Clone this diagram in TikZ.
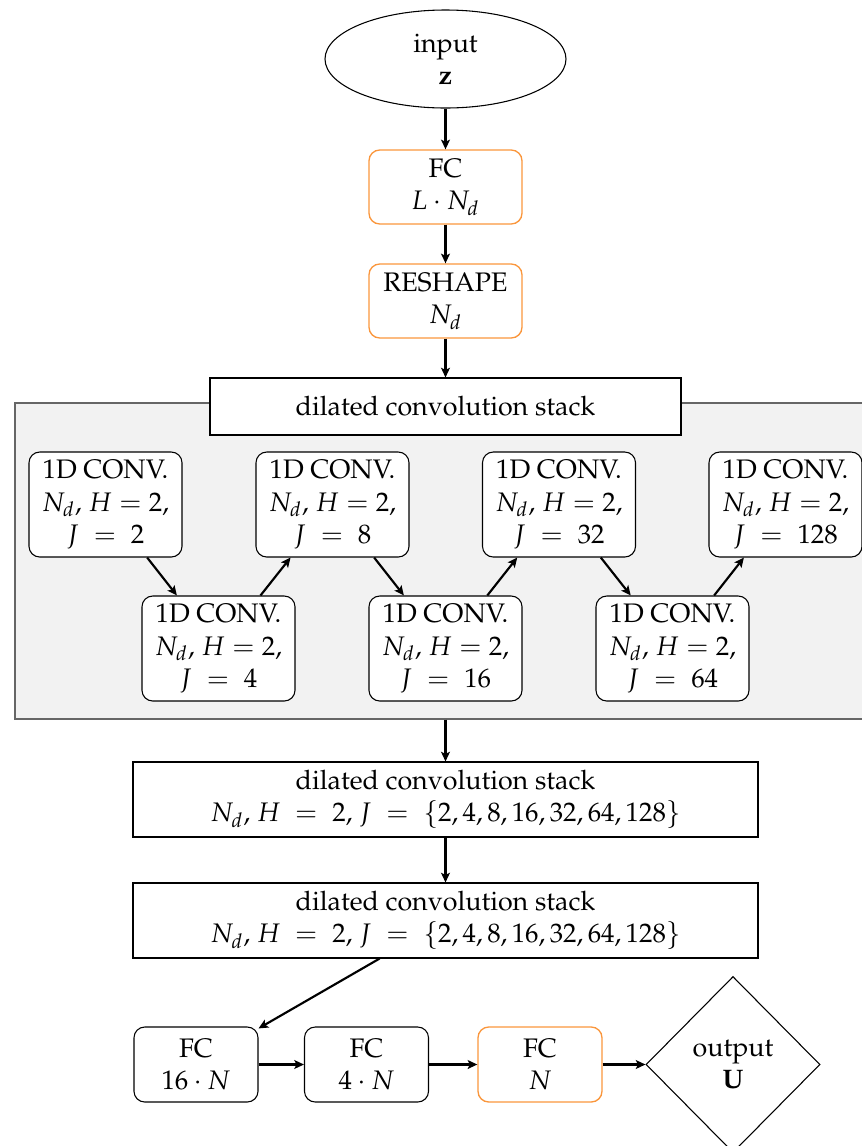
\documentclass[tikz,border=0pt]{standalone}
\usepackage[T1]{fontenc}
\usepackage{mathpazo}
\usetikzlibrary{shapes.geometric,arrows.meta}
\definecolor{boxorange}{RGB}{250,150,60}
\definecolor{framegray}{RGB}{242,242,242}
\newcommand\pxu{0.3731pt}
\begin{document}
\begin{tikzpicture}[x=0.3731pt,y=-0.3731pt,
  box/.style={draw=black, rounded corners=4pt, align=center, inner sep=0pt, line width=0.4pt},
  obox/.style={box, draw=boxorange, line width=0.5pt},
  smallbox/.style={minimum width=153*\pxu, minimum height=74*\pxu},
  convbox/.style={box, fill=white, minimum width=153*\pxu, minimum height=105*\pxu},
  fcbox/.style={minimum width=124*\pxu, minimum height=75*\pxu},
  stackbox/.style={draw=black, line width=0.4pt, align=center, inner sep=0pt, minimum width=625*\pxu, minimum height=75*\pxu},
  arr/.style={-{Stealth[length=3.6pt,width=3.3pt,inset=0.8pt]}, thick}]
\useasboundingbox (0,0) rectangle (862,1146);

\node[draw, ellipse, line width=0.4pt, inner sep=0pt, minimum width=241*\pxu, minimum height=98*\pxu, align=center] (in) at (445.5,59) {input\\$\mathbf{z}$};
\node[obox, smallbox] (fc1) at (445.5,187) {FC\\$L \cdot N_d$};
\node[obox, smallbox] (resh) at (445.5,301) {RESHAPE\\$N_d$};

\node[draw=black!60, fill=framegray, line width=0.4pt, inner sep=0pt, minimum width=861*\pxu, minimum height=316*\pxu] (frame) at (445.5,561) {};
\node[draw=black, fill=white, line width=0.4pt, inner sep=0pt, minimum width=471*\pxu, minimum height=57*\pxu] (head) at (445.5,406.5) {dilated convolution stack};

\node[convbox] (c1) at (105.5,504.5) {1D CONV.\\$N_d$, $H=2$,\\$J \;=\; 2$};
\node[convbox] (c2) at (332.5,504.5) {1D CONV.\\$N_d$, $H=2$,\\$J \;=\; 8$};
\node[convbox] (c3) at (559,504.5) {1D CONV.\\$N_d$, $H=2$,\\$J \;=\; 32$};
\node[convbox] (c4) at (785.5,504.5) {1D CONV.\\$N_d$, $H=2$,\\$J \;=\; 128$};
\node[convbox] (c5) at (218.5,648.5) {1D CONV.\\$N_d$, $H=2$,\\$J \;=\; 4$};
\node[convbox] (c6) at (445.5,648.5) {1D CONV.\\$N_d$, $H=2$,\\$J \;=\; 16$};
\node[convbox] (c7) at (672.5,648.5) {1D CONV.\\$N_d$, $H=2$,\\$J \;=\; 64$};

\node[stackbox] (s2) at (445.5,799.5) {dilated convolution stack\\$N_d$, $H \;=\; 2$, $J \;=\; \{2,4,8,16,32,64,128\}$};
\node[stackbox] (s3) at (445.5,920.5) {dilated convolution stack\\$N_d$, $H \;=\; 2$, $J \;=\; \{2,4,8,16,32,64,128\}$};

\node[box, fcbox] (f1) at (196,1064.5) {FC\\$16 \cdot N$};
\node[box, fcbox] (f2) at (366.5,1064.5) {FC\\$4 \cdot N$};
\node[obox, fcbox] (f3) at (540,1064.5) {FC\\$N$};
\node[draw, diamond, line width=0.4pt, inner sep=0pt, minimum width=174*\pxu, minimum height=176*\pxu, align=center] (out) at (733,1064.5) {output\\$\mathbf{U}$};

\draw[arr] (in) -- (fc1);
\draw[arr] (fc1) -- (resh);
\draw[arr] (resh) -- (head);
\draw[arr] (c1) -- (c5);
\draw[arr] (c5) -- (c2);
\draw[arr] (c2) -- (c6);
\draw[arr] (c6) -- (c3);
\draw[arr] (c3) -- (c7);
\draw[arr] (c7) -- (c4);
\draw[arr] (frame.south) -- (s2);
\draw[arr] (s2) -- (s3);
\draw[arr] (s3) -- (f1);
\draw[arr] (f1) -- (f2);
\draw[arr] (f2) -- (f3);
\draw[arr] (f3) -- (out);
\end{tikzpicture}
\end{document}
